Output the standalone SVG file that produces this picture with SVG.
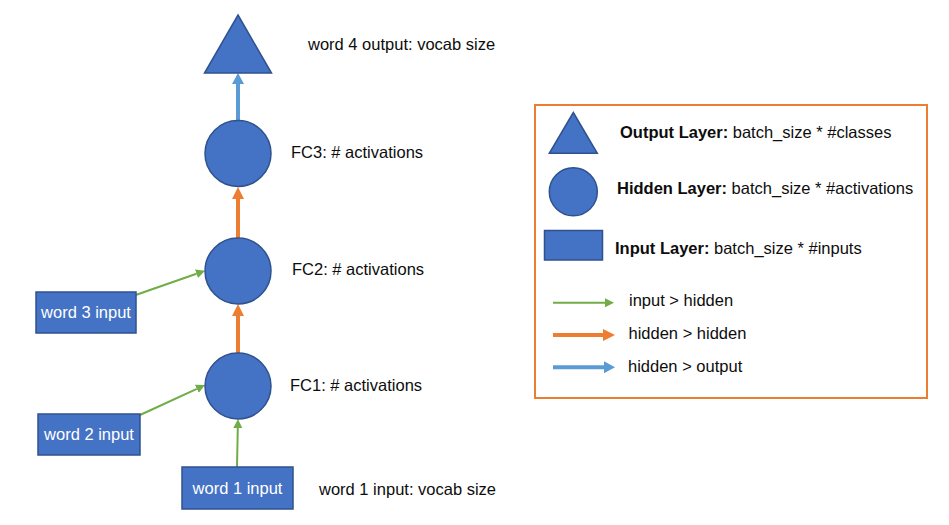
<svg xmlns="http://www.w3.org/2000/svg" width="949" height="525" viewBox="0 0 949 525">
<defs>
<style>
.shape{fill:#4472C4;stroke:#2F528F;stroke-width:1.5}
.t{font-family:"Liberation Sans",Arial,sans-serif;font-size:16.5px;fill:#0d0d0d}
.w{font-family:"Liberation Sans",Arial,sans-serif;font-size:16.5px;fill:#fff;text-anchor:middle}
.b{font-weight:bold}
.g{stroke:#70AD47;stroke-width:2;fill:none}
.o{stroke:#ED7D31;stroke-width:4;fill:none}
.bl{stroke:#5B9BD5;stroke-width:4;fill:none}
</style>
<marker id="hg" markerUnits="userSpaceOnUse" markerWidth="12" markerHeight="12" viewBox="0 -6 12 12" refX="0" refY="0" orient="auto"><path d="M0,-4.5 L9,0 L0,4.5 Z" fill="#70AD47"/></marker>
<marker id="ho" markerUnits="userSpaceOnUse" markerWidth="14" markerHeight="14" viewBox="0 -7 14 14" refX="0" refY="0" orient="auto"><path d="M0,-6 L12,0 L0,6 Z" fill="#ED7D31"/></marker>
<marker id="hb" markerUnits="userSpaceOnUse" markerWidth="14" markerHeight="14" viewBox="0 -7 14 14" refX="0" refY="0" orient="auto"><path d="M0,-6 L11,0 L0,6 Z" fill="#5B9BD5"/></marker>
</defs>
<rect width="949" height="525" fill="#fff"/>
<g id="connectors">
<line class="bl" x1="238" y1="121" x2="238" y2="84" marker-end="url(#hb)"/>
<line class="o" x1="238" y1="238" x2="238" y2="199" marker-end="url(#ho)"/>
<line class="o" x1="238" y1="353" x2="238" y2="316" marker-end="url(#ho)"/>
<line class="g" x1="237" y1="467" x2="237.8" y2="428" marker-end="url(#hg)"/>
<line class="g" x1="135.7" y1="295" x2="196.5" y2="273.7" marker-end="url(#hg)"/>
<line class="g" x1="140" y1="415" x2="196.8" y2="388.8" marker-end="url(#hg)"/>
</g>
<g id="output"><polygon class="shape" points="238,15 271.5,73 204.5,73"/><text class="t" x="308" y="50">word 4 output: vocab size</text></g>
<g id="fc3"><circle class="shape" cx="238" cy="153.5" r="33"/><text class="t" x="291" y="158">FC3: # activations</text></g>
<g id="fc2"><circle class="shape" cx="238" cy="271" r="33"/><text class="t" x="292" y="275">FC2: # activations</text></g>
<g id="fc1"><circle class="shape" cx="238" cy="386" r="33"/><text class="t" x="290" y="391">FC1: # activations</text></g>
<g id="word3"><rect class="shape" x="36" y="292" width="100" height="41"/><text class="w" x="86" y="318">word 3 input</text></g>
<g id="word2"><rect class="shape" x="38" y="414" width="102" height="41"/><text class="w" x="89" y="440">word 2 input</text></g>
<g id="word1"><rect class="shape" x="182" y="467" width="111" height="42"/><text class="w" x="237.5" y="494">word 1 input</text><text class="t" x="319" y="495">word 1 input: vocab size</text></g>
<g id="legend">
<rect x="535" y="105" width="392" height="293" fill="none" stroke="#ED7D31" stroke-width="2"/>
<polygon class="shape" points="573.3,112.5 597.3,153.3 549.3,153.3"/>
<text class="t" x="620" y="138"><tspan class="b">Output Layer:</tspan> batch_size * #classes</text>
<circle class="shape" cx="573.3" cy="191.7" r="24"/>
<text class="t" x="617" y="194"><tspan class="b">Hidden Layer:</tspan> batch_size * #activations</text>
<rect class="shape" x="544.5" y="230.5" width="58" height="29.5"/>
<text class="t" x="615" y="254"><tspan class="b">Input Layer:</tspan> batch_size * #inputs</text>
<line class="g" x1="553" y1="302.7" x2="605" y2="302.7" marker-end="url(#hg)"/>
<text class="t" x="629" y="306">input &gt; hidden</text>
<line class="o" x1="553" y1="335" x2="603" y2="335" marker-end="url(#ho)"/>
<text class="t" x="628.5" y="339">hidden &gt; hidden</text>
<line class="bl" x1="553" y1="367.3" x2="604" y2="367.3" marker-end="url(#hb)"/>
<text class="t" x="628" y="372">hidden &gt; output</text>
</g>
</svg>
